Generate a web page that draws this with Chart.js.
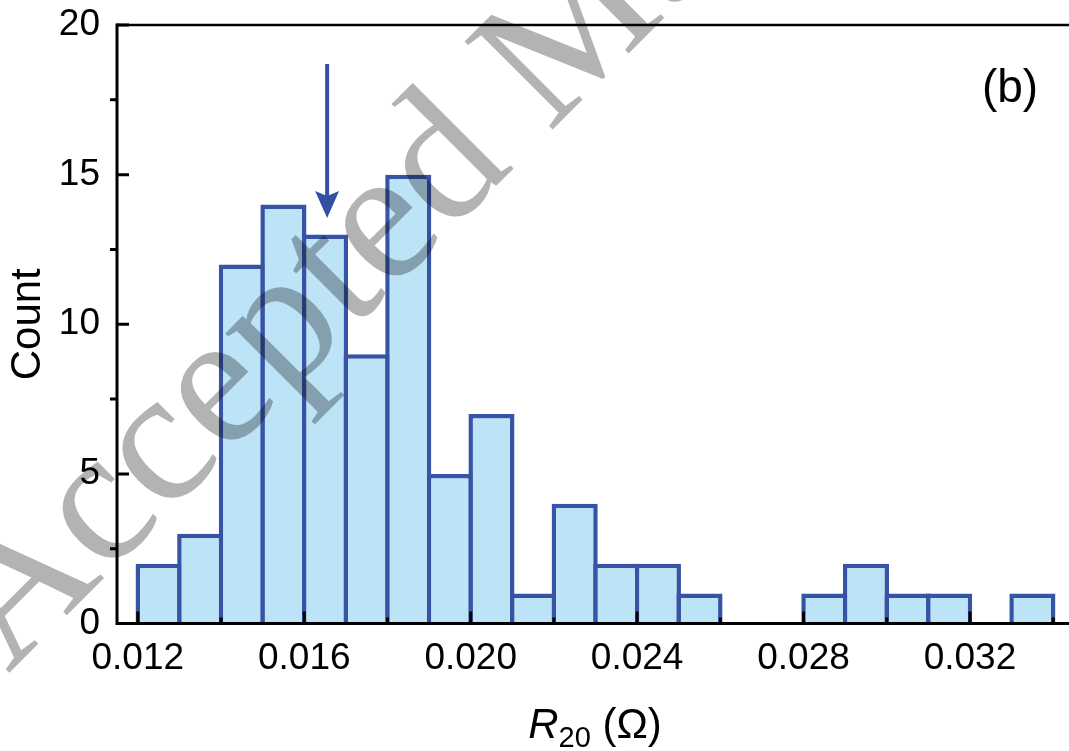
<!DOCTYPE html>
<html>
<head>
<meta charset="utf-8">
<title>R20 histogram</title>
<script src="https://cdn.jsdelivr.net/npm/chart.js@4.4.1/dist/chart.umd.min.js"></script>
<style>
  html, body { margin: 0; padding: 0; background: #fff; overflow: hidden; }
  #wrap { width: 1069px; height: 751px; }
</style>
</head>
<body>
<div id="wrap"><canvas id="hist" width="1069" height="751"></canvas></div>
<script>
// histogram bins (left edge, Ohm) and counts
const binStarts = [0.012, 0.013, 0.014, 0.015, 0.016, 0.017, 0.018, 0.019, 0.020, 0.021, 0.022,
                   0.023, 0.024, 0.025, 0.026, 0.027, 0.028, 0.029, 0.030, 0.031, 0.032, 0.033];
const counts    = [2, 3, 12, 14, 13, 9, 15, 5, 7, 1, 4,
                   2, 2, 1, 0, 0, 1, 2, 1, 1, 0, 1];
const binWidth = 0.001;

const xTickLabels = [0.012, 0.016, 0.020, 0.024, 0.028, 0.032];
const xMinorTicks = [0.014, 0.018, 0.022, 0.026, 0.030, 0.034];
const yTickLabels = [0, 5, 10, 15, 20];
const yMinorTicks = [2.5, 7.5, 12.5, 17.5];

// arrow marking the median-ish value
const arrowX = 0.01655;
const arrowTop = 18.7;
const arrowTip = 13.55;

const xMin = 0.0115, xMax = 0.03438;
const yMin = 0, yMax = 20;

const FONT = '"Liberation Sans", Arial, Helvetica, sans-serif';
const barFill = '#bce3f6';
const barEdge = '#3653a6';

const points = [];
binStarts.forEach((b, i) => {
  if (counts[i] > 0) points.push({ x: b + binWidth / 2, y: counts[i] });
});

const frame = {
  id: 'frame',
  afterDatasetsDraw(chart) {
    const ctx = chart.ctx;
    const { left, right, top, bottom } = chart.chartArea;
    const xs = chart.scales.x, ys = chart.scales.y;
    ctx.save();
    ctx.strokeStyle = '#000';
    ctx.lineCap = 'butt';

    // axes
    ctx.lineWidth = 3;
    ctx.beginPath();
    ctx.moveTo(left, top - 1.5);
    ctx.lineTo(left, bottom + 1.5);
    ctx.moveTo(left - 1.5, bottom);
    ctx.lineTo(right, bottom);
    ctx.stroke();
    ctx.lineWidth = 2.5;
    ctx.beginPath();
    ctx.moveTo(left, top);
    ctx.lineTo(right, top);
    ctx.stroke();

    // ticks
    ctx.lineWidth = 3;
    ctx.beginPath();
    yTickLabels.forEach(v => {
      const y = ys.getPixelForValue(v);
      ctx.moveTo(left, y); ctx.lineTo(left + 12, y);
    });
    yMinorTicks.forEach(v => {
      const y = ys.getPixelForValue(v);
      ctx.moveTo(left - 7, y); ctx.lineTo(left, y);
    });
    xTickLabels.forEach(v => {
      const x = xs.getPixelForValue(v);
      ctx.moveTo(x, bottom); ctx.lineTo(x, bottom - 12);
    });
    xMinorTicks.forEach(v => {
      const x = xs.getPixelForValue(v);
      ctx.moveTo(x, bottom); ctx.lineTo(x, bottom - 6);
    });
    ctx.stroke();

    // arrow
    const ax = xs.getPixelForValue(arrowX);
    const ay0 = ys.getPixelForValue(arrowTop);
    const ay1 = ys.getPixelForValue(arrowTip);
    ctx.strokeStyle = '#3450a5';
    ctx.fillStyle = '#3450a5';
    ctx.lineWidth = 4;
    ctx.beginPath();
    ctx.moveTo(ax, ay0);
    ctx.lineTo(ax, ay1 - 20);
    ctx.stroke();
    ctx.beginPath();
    ctx.moveTo(ax - 12, ay1 - 27);
    ctx.lineTo(ax, ay1 - 22);
    ctx.lineTo(ax + 12, ay1 - 27);
    ctx.lineTo(ax, ay1);
    ctx.closePath();
    ctx.fill();

    // panel label
    ctx.fillStyle = '#000';
    ctx.font = '46px ' + FONT;
    ctx.textAlign = 'center';
    ctx.textBaseline = 'alphabetic';
    ctx.fillText('(b)', 1010, 102);

    // x axis title: R_20 (Ω)
    const mainF = '42px ' + FONT;
    const itF = 'italic 42px ' + FONT;
    const subF = '29px ' + FONT;
    ctx.font = itF; const wR = ctx.measureText('R').width;
    ctx.font = subF; const wS = ctx.measureText('20').width;
    ctx.font = mainF; const wT = ctx.measureText(' (Ω)').width;
    let tx = (left + right) / 2 - (wR + wS + wT) / 2 + 2;
    const base = 738;
    ctx.textAlign = 'left';
    ctx.font = itF; ctx.fillText('R', tx, base); tx += wR;
    ctx.font = subF; ctx.fillText('20', tx, base + 9); tx += wS;
    ctx.font = mainF; ctx.fillText(' (Ω)', tx, base);
    ctx.restore();
  },
  afterDraw(chart) {
    // "Accepted Manuscript" watermark, multiplied over the figure
    const ctx = chart.ctx;
    ctx.save();
    ctx.globalCompositeOperation = 'multiply';
    ctx.translate(8, 674);
    ctx.rotate(-Math.PI / 4);
    ctx.fillStyle = '#b3b3b3';
    ctx.font = '190px "Liberation Serif", "Times New Roman", serif';
    ctx.textBaseline = 'alphabetic';
    ctx.fillText('Accepted Manuscript', 0, 0);
    ctx.restore();
  }
};

new Chart(document.getElementById('hist'), {
  type: 'bar',
  data: {
    datasets: [{
      data: points,
      backgroundColor: barFill,
      borderColor: barEdge,
      borderWidth: 4.5,
      borderSkipped: 'start',
      barPercentage: 1.108,
      categoryPercentage: 1.0
    }]
  },
  options: {
    responsive: false,
    animation: false,
    events: [],
    layout: { padding: { top: 25, right: 0, bottom: 0, left: 0 } },
    plugins: { legend: { display: false }, tooltip: { enabled: false } },
    scales: {
      x: {
        type: 'linear',
        min: xMin, max: xMax,
        offset: false,
        grid: { display: false, drawTicks: false },
        border: { display: false },
        afterBuildTicks: s => { s.ticks = xTickLabels.map(v => ({ value: v })); },
        afterFit: s => { s.height = 127.5; s.paddingLeft = 0; s.paddingRight = 0; },
        ticks: {
          color: '#000',
          font: { family: FONT, size: 37 },
          padding: 13,
          maxRotation: 0,
          autoSkip: false,
          callback: v => v.toFixed(3)
        }
      },
      y: {
        min: yMin, max: yMax,
        grid: { display: false, drawTicks: false },
        border: { display: false },
        afterBuildTicks: s => { s.ticks = yTickLabels.map(v => ({ value: v })); },
        afterFit: s => { s.width = 117; s.paddingTop = 0; s.paddingBottom = 0; },
        ticks: {
          color: '#000',
          font: { family: FONT, size: 37 },
          padding: 17
        },
        title: {
          display: true,
          text: 'Count',
          color: '#000',
          font: { family: FONT, size: 42 },
          padding: { top: 3, bottom: 0 }
        }
      }
    }
  },
  plugins: [frame]
});
</script>
</body>
</html>
